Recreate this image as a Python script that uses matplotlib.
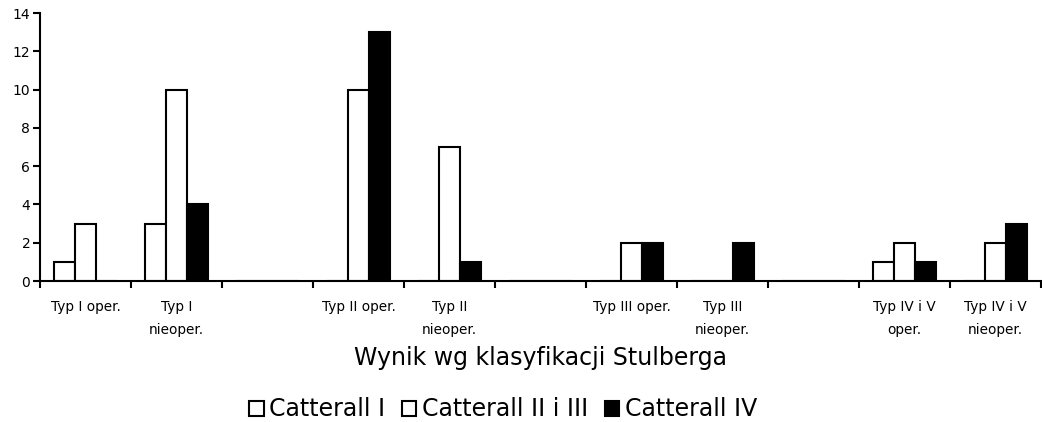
import matplotlib
matplotlib.use("Agg")
import matplotlib.pyplot as plt
import numpy as np

plt.rcParams['font.family'] = ['DejaVu Sans']

categories = ['Typ I oper.', 'Typ I\nnieoper.', '', 'Typ II oper.', 'Typ II\nnieoper.', '',
              'Typ III oper.', 'Typ III\nnieoper.', '', 'Typ IV i V\noper.', 'Typ IV i V\nnieoper.']
catterall_1 = [1, 3, 0, 0, 0, 0, 0, 0, 0, 1, 0]
catterall_2_3 = [3, 10, 0, 10, 7, 0, 2, 0, 0, 2, 2]
catterall_4 = [0, 4, 0, 13, 1, 0, 2, 2, 0, 1, 3]
series_names = ['Catterall I', 'Catterall II i III', 'Catterall IV']

fig = plt.figure(figsize=(10.42, 4.22), dpi=100)
ax = fig.add_axes([0.0384, 0.334, 0.9606, 0.635])

x = np.arange(len(categories))
w = 0.23
ax.bar(x - w, catterall_1, width=w, color='white', edgecolor='black', linewidth=1.5, label=series_names[0])
ax.bar(x, catterall_2_3, width=w, color='white', edgecolor='black', linewidth=1.5, label=series_names[1])
ax.bar(x + w, catterall_4, width=w, color='black', edgecolor='black', linewidth=1.5, label=series_names[2])

ax.set_xlim(-0.5, len(categories) - 0.5)
ax.set_ylim(0, 14)
ax.set_yticks(range(0, 15, 2))
ax.set_xticks(np.arange(len(categories) + 1) - 0.5)
ax.set_xticklabels([])
ax.set_xticks(x, minor=True)
ax.set_xticklabels(categories, minor=True, fontsize=9.8, linespacing=1.75)
ax.tick_params(axis='x', which='minor', length=0, pad=14)
ax.tick_params(axis='both', which='major', direction='out', length=5, width=1.5, labelsize=10)
ax.tick_params(axis='y', pad=2)

for s in ['top', 'right']:
    ax.spines[s].set_visible(False)
ax.spines['left'].set_linewidth(1.5)
ax.spines['bottom'].set_linewidth(1.5)

ax.set_xlabel('Wynik wg klasyfikacji Stulberga', fontsize=17, labelpad=7)

fig.legend(loc='center', bbox_to_anchor=(0.483, 0.03), ncol=3, frameon=False, fontsize=17,
           handlelength=0.6, handleheight=0.6, handletextpad=0.25, columnspacing=0.7,
           borderaxespad=0)

fig.savefig('out.png', dpi=100)
